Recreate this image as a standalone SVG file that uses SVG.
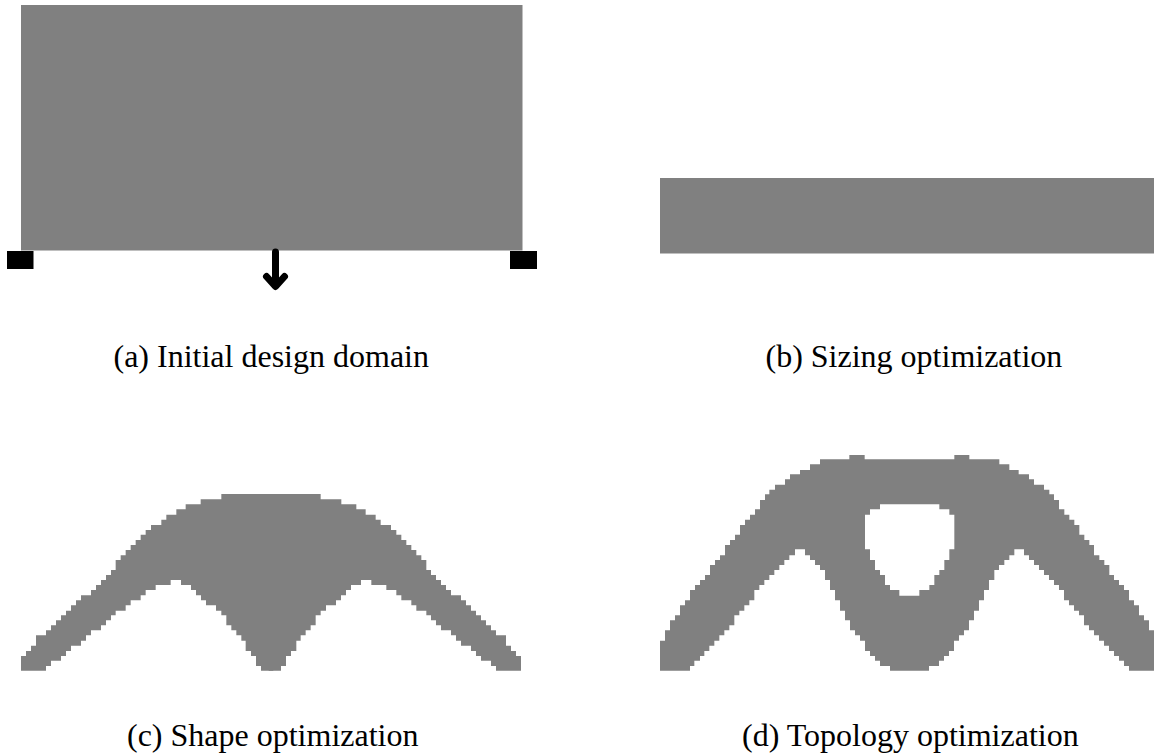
<svg xmlns="http://www.w3.org/2000/svg" width="1154" height="754" viewBox="0 0 1154 754">
<style>
.m{fill:#808080}
.b{fill:#000}
.t{font-family:"Liberation Serif","Times New Roman",serif;font-size:32px;fill:#000}
.a{fill:none;stroke:#000;stroke-width:7;stroke-linecap:round;stroke-linejoin:round}
</style>
<defs>
<path id="half" d="M63 662V618H78V603H93V587H108V556H138V541H153V526H168V511H183V496H198V482H213V466H228V451H243V436H273V420H288V405H303V390H318V375H333V360H347V330H362V316H377V300H392V285H407V270H422V254H437V240H453V225H484V209H499V194H529V178H557V163H602V148H664V132H820V662H783V648H768V618H753V603H737V572H724V556H709V541H694V526H679V496H664V482H648V466H618V451H603V436H588V420H573V405H543V390H512V405H467V420H437V436H422V451H392V466H377V482H347V496H333V511H318V526H303V541H273V556H258V572H243V587H213V603H198V618H183V632H153V648H138V662Z"/>
</defs>
<rect width="1154" height="754" fill="#fff"/>
<g id="panel-a">
<rect class="m" x="21" y="5" width="501.500" height="245.500"/>
<rect class="b" x="7" y="251" width="26.500" height="18"/>
<rect class="b" x="510" y="251" width="27" height="18"/>
<path class="a" d="M275.500 252V286M266.500 276.500L275.500 286.500L284.500 276.500"/>
<text class="t" x="113.500" y="367">(a) Initial design domain</text>
</g>
<g id="panel-b">
<rect class="m" x="660" y="178" width="494" height="75.500"/>
<text class="t" x="765.500" y="367">(b) Sizing optimization</text>
</g>
<g id="panel-c">
<g class="m" transform="translate(0 450) scale(.33333)"><use href="#half"/><use href="#half" transform="matrix(-1 0 0 1 1626 0)"/></g>
<text class="t" x="127" y="746">(c) Shape optimization</text>
</g>
<g id="panel-d">
<path class="m" fill-rule="evenodd" transform="translate(650 450) scale(.33333)" d="M30 662V572H45V541H60V511H75V496H90V466H105V451H120V420H135V405H150V390H165V375H180V345H195V330H210V316H225V285H240V270H255V254H270V225H285V209H300V194H315V178H330V150H345V133H358V119H375V104H405V88H420V73H450V60H480V43H510V28H598V15H644V28H913V15H958V28H1048V43H1078V60H1106V73H1137V88H1152V104H1182V119H1198V133H1212V150H1227V178H1243V194H1258V209H1273V225H1288V254H1303V270H1318V285H1332V316H1348V330H1363V345H1378V375H1392V390H1407V405H1422V420H1437V451H1452V466H1467V496H1482V511H1497V541H1512V662H1437V648H1422V632H1407V618H1392V603H1377V587H1362V572H1347V556H1332V541H1317V526H1302V496H1287V482H1272V466H1257V451H1242V420H1227V405H1212V390H1197V375H1182V360H1167V345H1152V330H1137V316H1122V298H1093V316H1078V330H1063V345H1047V360H1033V390H1017V420H1002V451H987V482H972V511H957V541H942V556H927V572H912V603H897V618H882V632H867V648H837V662H720V648H690V632H675V618H660V603H645V572H630V556H615V541H600V511H585V482H570V451H555V420H540V390H525V360H510V345H495V330H480V316H465V298H435V316H418V330H403V345H388V360H373V375H358V390H343V405H328V420H313V451H298V466H283V482H268V496H253V526H238V541H223V556H208V572H193V587H178V603H163V618H150V632H133V648H120V662Z M690 163V178H660V194H645V298H660V330H675V360H690V375H705V405H720V420H748V437H808V420H838V405H853V375H868V360H883V330H898V298H913V194H898V178H868V163Z"/>
<text class="t" x="742" y="746">(d) Topology optimization</text>
</g>
</svg>
